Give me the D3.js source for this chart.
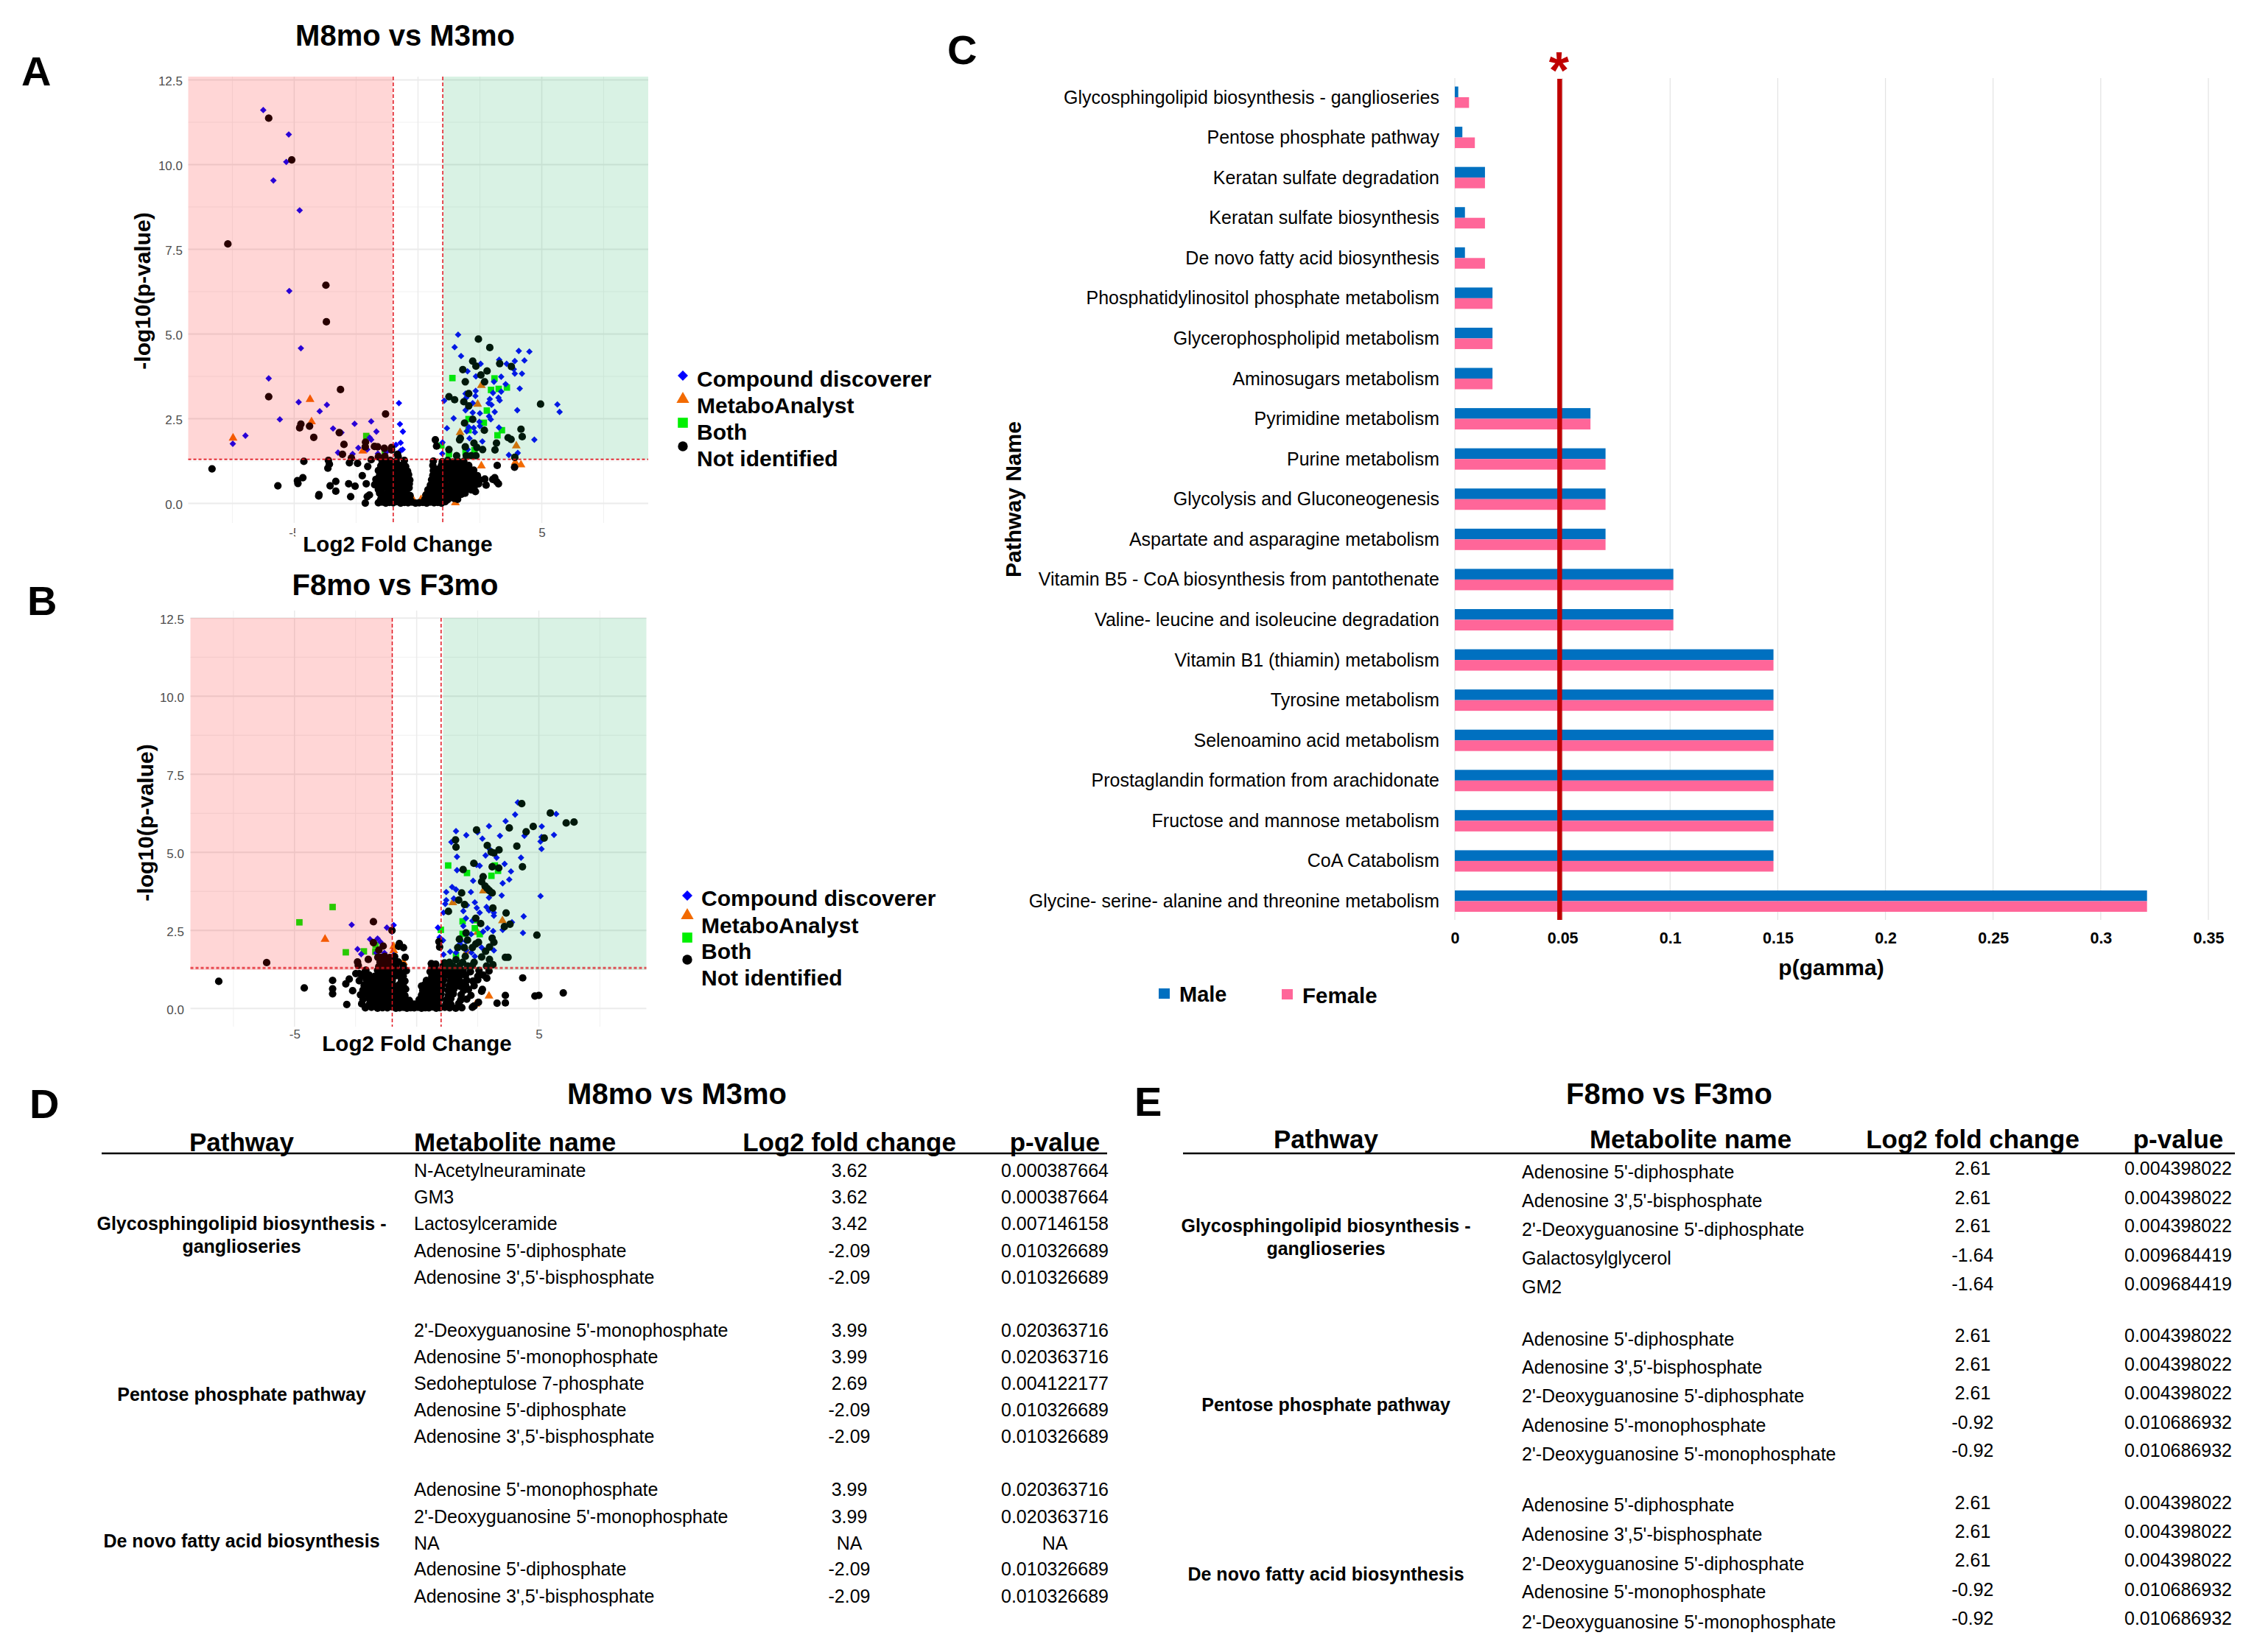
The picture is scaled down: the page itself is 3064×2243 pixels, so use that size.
<!DOCTYPE html>
<html>
<head>
<meta charset="utf-8">
<script src="https://cdn.jsdelivr.net/npm/d3@7"></script>
<style>
html,body{margin:0;padding:0;background:#fff}
svg{display:block}
text{font-family:"Liberation Sans",Arial,sans-serif}
</style>
</head>
<body>
<svg id="fig" width="3064" height="2243" viewBox="0 0 3064 2243"></svg>
<script>
// ---------- Panel A data: [log2 fold change, -log10 p] ----------
const aCompound = [[-6.25,11.61],[-5.22,10.89],[-5.32,10.08],[-5.84,9.53],[-4.78,8.65],[-5.2,6.27],[-4.73,4.58],[-6.03,3.69],
[-4.82,2.99],[-3.68,2.91],[-3.97,2.72],[-5.58,2.48],[-2.56,2.35],[-1.89,2.42],[-3.43,2.21],[-3.09,2.09],[-1.68,2.12],[-6.97,2.0],[-7.48,1.76],[-1.95,1.94],[-1.89,1.88],[-2.41,1.64],[-2.05,1.59],[-3.23,1.5],[-2.64,1.46],[-1.62,1.47],[-1.27,1.52],
[-0.77,2.96],[-0.73,2.34],[-0.61,2.12],[-0.7,1.79],[-0.89,1.73],[-0.62,1.59],[-0.7,1.56],
[1.62,4.98],[1.48,4.61],[1.74,4.35],[4.07,4.5],[4.5,4.48],[4.3,4.22],[3.91,4.2],[3.28,4.24],[2.53,4.12],[3.58,4.12],[2.0,3.9],[2.34,3.75],[3.36,3.74],[3.87,3.96],[3.91,3.83],[4.2,3.83],[3.07,3.59],[3.54,3.52],[4.11,3.39],[2.33,3.32],[3.36,3.3],[3.03,3.26],[1.92,3.24],[2.32,3.17],[1.95,3.12],[1.06,3.03],[2.9,3.08],[3.25,3.12],[3.3,3.04],[2.21,2.96],[2.85,2.96],[2.97,2.91],[5.63,2.92],[5.72,2.7],[4.01,2.75],[1.92,2.75],[2.21,2.68],[2.5,2.66],[3.1,2.7],[1.44,2.51],[2.87,2.57],[2.94,2.48],[1.17,2.22],[2.05,2.25],[2.25,2.23],[2.48,2.41],[2.5,2.28],[1.97,2.13],[2.3,2.1],[3.27,2.24],[2.08,1.92],[2.6,1.83],[4.7,1.88],[0.99,1.8],[2.01,1.59],[4.03,1.49],[3.67,1.43],[0.98,1.47]];
const aMetabo = [[-7.47,1.93],[-4.36,3.07],[-4.3,2.41],[-2.23,1.55],[2.56,3.48],[2.41,2.93],[1.7,2.09],[3.97,1.7],[3.93,1.21],[4.16,1.14],[2.56,1.11],[1.36,0.8],[1.51,0.02],[-0.8,0.14],[-0.48,0.47],[-0.2,0.11],[0.12,0.11],[0.32,0.3],[0.85,0.43],[0.89,0.29]];
const aBoth = [[1.39,3.7],[3.09,3.69],[2.95,3.35],[3.26,3.38],[3.59,3.42],[2.78,2.74],[2.04,2.49],[2.66,2.38],[2.04,2.16],[3.39,2.16],[3.21,2.01],[-2.09,1.99],[-1.34,1.55],[0.94,1.71],[1.25,1.45],[1.92,1.52],[2.28,1.57]];
const aNone = [[-6.03,11.37],[-5.1,10.14],[-7.68,7.66],[-3.72,6.44],[-3.7,5.36],[-3.13,3.36],[-6.03,3.15],[-1.31,2.64],
[2.44,4.85],[2.9,4.6],[2.21,4.2],[2.34,4.05],[3.3,4.13],[3.77,4.04],[1.81,3.95],[2.79,3.91],[2.54,3.79],[1.91,3.59],[2.69,3.59],[2.05,3.24],[1.25,3.15],[1.48,3.06],[1.85,3.0],[2.05,2.88],[4.95,2.93],[1.88,2.37],[2.21,2.48],[2.68,2.16],[4.16,2.19],[4.21,1.97],[3.64,1.94],[3.76,1.89],[1.68,1.88],[1.71,1.92],[0.7,1.88],[0.75,1.69],[3.17,1.78],[2.26,1.78],[2.38,1.65],[2.61,1.59],[3.11,1.58],[1.91,1.67],[1.25,1.59],[1.56,1.41],[1.95,1.41],[2.15,1.41],[2.34,1.41],[3.91,1.36],
[-4.73,2.34],[-4.78,2.23],[-4.38,2.28],[-4.21,1.95],[-3.18,2.09],[-2.99,1.74],[-2.69,1.34],[-3.05,1.45],[-2.12,1.81],[-2.13,1.67],[-1.76,1.68],[-1.63,1.67],[-1.36,1.63],[-1.07,1.65],[-1.07,1.58],[-1.6,1.38],[-1.34,1.39],[-1.89,1.29],[-0.83,1.45],[-0.8,1.38],
[-8.32,1.02],[-4.61,1.24],[-3.62,1.27],[-3.58,1.16],[-3.64,1.04],[-4.65,0.76],[-4.87,0.67],[-4.85,0.59],[-5.66,0.52],[-3.32,0.65],[-3.55,0.52],[-3.32,0.36],[-4.01,0.22],[-4.0,0.26],[-2.72,0.2],[-2.77,1.2],[-2.44,1.18],[-2.03,1.09],[-2.25,0.82],[-2.09,0.58],[-2.8,0.58],[-2.54,0.51],[-1.96,0.25],[-2.05,0.2],[-2.13,0.01],[3.1,0.76],[3.02,0.71],[3.18,0.64],[3.25,0.58],[2.75,0.54],[3.2,1.12],[3.9,1.07],[2.32,0.35],
[-1.6,0.02],[-1.45,0.04],[-1.3,0.01],[-1.15,0.03],[-1.0,0.02],[-0.85,0.05],[-0.7,0.01],[-0.55,0.03],[-0.4,0.02],[-0.25,0.04],[-0.1,0.01],[0.05,0.02],[0.2,0.03],[0.35,0.01],[0.5,0.04],[0.65,0.02],[0.8,0.03],[0.95,0.01],[1.1,0.05],
[-1.5,0.13],[-1.3,0.16],[-1.12,0.12],[-0.95,0.15],[-0.75,0.11],[-0.6,0.16],[-0.42,0.13],[-0.3,0.09],[0.28,0.12],[0.42,0.15],[0.6,0.11],[0.75,0.17],[0.9,0.13],[1.05,0.16],[1.2,0.11],[1.45,0.15],[1.6,0.12],
[-1.55,0.3],[-1.35,0.26],[-1.15,0.31],[-0.98,0.27],[-0.8,0.3],[-0.62,0.25],[-0.45,0.29],[-0.32,0.23],[0.32,0.25],[0.5,0.3],[0.68,0.26],[0.85,0.31],[1.02,0.27],[1.2,0.3],[1.38,0.25],[1.55,0.31],[1.75,0.27],[1.9,0.3],
[-1.6,0.41],[-1.42,0.45],[-1.2,0.42],[-1.0,0.46],[-0.85,0.4],[-0.65,0.44],[-0.5,0.41],[-0.36,0.46],[0.4,0.4],[0.58,0.45],[0.75,0.41],[0.92,0.46],[1.1,0.42],[1.28,0.44],[1.45,0.4],[1.62,0.46],[1.8,0.42],[2.0,0.45],[2.15,0.4],
[-1.75,0.55],[-1.5,0.58],[-1.3,0.54],[-1.08,0.59],[-0.9,0.55],[-0.72,0.57],[-0.55,0.53],[-0.35,0.58],[0.5,0.54],[0.68,0.58],[0.85,0.55],[1.02,0.59],[1.2,0.53],[1.38,0.57],[1.55,0.55],[1.72,0.59],[1.9,0.54],[2.1,0.57],[2.3,0.53],[2.45,0.58],
[-1.7,0.71],[-1.45,0.68],[-1.25,0.72],[-1.05,0.69],[-0.85,0.73],[-0.68,0.68],[-0.5,0.71],[-0.33,0.69],[0.55,0.7],[0.72,0.67],[0.9,0.72],[1.08,0.69],[1.25,0.73],[1.42,0.68],[1.6,0.71],[1.78,0.69],[1.95,0.73],[2.12,0.68],[2.3,0.71],[2.5,0.69],[2.7,0.72],
[-1.55,0.83],[-1.35,0.86],[-1.15,0.82],[-0.95,0.87],[-0.75,0.84],[-0.58,0.81],[-0.38,0.85],[0.6,0.83],[0.78,0.87],[0.95,0.82],[1.12,0.86],[1.3,0.83],[1.48,0.87],[1.65,0.82],[1.82,0.85],[2.0,0.84],[2.2,0.87],[2.4,0.82],
[-1.6,0.97],[-1.4,1.0],[-1.18,0.96],[-0.98,1.01],[-0.8,0.97],[-0.6,0.99],[-0.42,0.95],[0.62,0.97],[0.8,1.01],[0.98,0.96],[1.15,1.0],[1.35,0.97],[1.5,1.01],[1.7,0.96],[1.88,0.99],[2.05,0.95],[2.25,0.98],
[-1.5,1.11],[-1.3,1.14],[-1.1,1.1],[-0.9,1.15],[-0.7,1.12],[-0.5,1.09],[0.6,1.12],[0.95,1.13],[1.12,1.1],[1.3,1.15],[1.5,1.11],[1.68,1.14],[1.85,1.1],[2.05,1.12],
[-1.45,1.26],[-1.35,1.22],[-1.12,1.27],[-0.88,1.24],[-0.55,1.27],[0.62,1.25],[0.98,1.23],[1.2,1.27],[1.4,1.22],[1.6,1.26],[1.85,1.24]];

// ---------- Panel B data ----------
const bCompound = [[4.14,6.6],[4.27,6.56],[4.03,6.21],[5.71,6.23],[3.64,6.0],[2.96,5.84],[5.12,5.83],[1.61,5.68],[2.03,5.55],[2.49,5.64],[5.62,5.56],[4.41,5.53],[3.41,5.53],[2.69,5.44],[5.11,5.49],[5.07,5.35],[1.42,5.33],[5.11,5.11],[3.0,5.09],[2.82,4.9],[3.27,4.83],[1.65,4.86],[4.27,4.83],[3.6,4.63],[2.58,4.57],[2.45,4.6],[1.65,4.43],[3.86,4.39],[3.79,4.13],[2.31,4.09],[3.52,4.01],[1.45,3.89],[1.61,3.81],[1.21,3.73],[2.22,3.73],[3.48,3.62],[5.07,3.6],[2.96,3.55],[1.21,3.47],[1.52,3.52],[1.17,3.35],[2.38,3.4],[2.06,3.31],[2.46,3.22],[2.86,3.25],[1.91,3.12],[2.96,3.14],[1.1,3.07],[2.58,3.07],[3.16,3.07],[3.16,2.97],[4.38,2.95],[2.02,2.89],[2.28,2.81],[3.9,2.76],[1.91,2.64],[2.9,2.57],[3.52,2.52],[3.13,2.48],[2.72,2.46],[4.35,2.42],[2.23,2.38],[0.87,2.59],[0.94,2.28],[1.08,2.18],[1.81,2.17],[2.02,2.15],[1.77,2.07],[2.66,1.95],[3.16,1.86],[1.37,1.82],[1.61,1.79],[2.02,1.87],[1.1,1.73],[2.38,1.67],[2.24,1.79],
[-2.66,2.68],[-0.94,2.67],[-1.22,2.59],[-1.01,2.46],[-1.91,2.22],[-1.6,2.24],[-1.48,2.13],[-2.42,1.9],[-2.27,1.74],[-1.65,1.78],[-1.32,1.78],[-0.94,1.71]];
const bMetabo = [[-3.75,2.22],[-0.94,1.99],[-0.94,1.86],[-0.54,1.48],[-1.32,1.46],[1.48,3.39],[2.73,3.77],[3.51,2.81],[2.49,2.44],[2.06,1.83],[2.96,0.4],[2.42,0.14],[-1.48,0.24],[-1.01,0.69],[-1.61,1.05],[0.34,0.18],[0.67,0.75]];
const bBoth = [[-3.44,3.25],[-4.8,2.76],[-2.9,1.8],[-2.16,1.83],[-1.68,2.03],[-1.69,1.82],[0.99,2.52],[1.29,4.58],[3.2,4.58],[3.33,4.41],[2.06,4.34],[3.06,4.25],[1.88,2.79],[2.39,2.83],[2.38,2.57],[1.88,2.39],[2.58,2.38],[1.61,1.7]];
const bNone = [[4.3,6.56],[5.47,6.26],[6.12,5.94],[6.44,5.97],[4.77,5.83],[3.79,5.78],[2.45,5.72],[4.48,5.66],[1.59,5.4],[5.22,5.46],[1.61,5.17],[2.89,5.22],[4.1,5.2],[3.37,5.08],[3.05,5.01],[3.16,4.98],[2.34,4.65],[3.09,4.54],[4.33,4.54],[3.36,4.5],[1.9,4.45],[2.72,4.22],[2.66,4.06],[2.8,3.92],[2.89,3.84],[2.98,3.77],[3.09,3.7],[1.84,3.7],[1.72,3.47],[1.96,3.33],[3.12,3.22],[1.3,3.11],[3.66,3.06],[2.42,2.89],[3.82,2.7],[3.59,2.62],[2.62,2.72],[3.09,2.25],[3.16,2.12],[2.53,2.12],[4.92,2.35],[2.02,2.42],[1.75,2.22],[2.08,2.19],[0.91,2.14],[2.42,2.07],[2.28,1.95],[1.68,1.95],[0.94,1.97],[1.95,1.95],[2.82,1.83],[2.98,1.97],[3.63,1.64],[3.74,1.64],[2.66,1.65],[1.99,1.67],[2.98,1.57],[3.12,1.4],[2.86,1.36],[2.35,1.48],[1.88,1.48],[1.61,1.56],[1.34,1.48],[1.14,1.46],[0.6,1.44],[0.78,1.42],[2.28,1.38],[2.08,1.36],[1.75,1.36],[1.48,1.36],[1.21,1.34],[1.08,1.36],
[-6.14,1.47],[-1.77,2.78],[-1.01,2.5],[-0.71,2.08],[-0.54,1.95],[-0.74,1.99],[-1.77,2.11],[-1.37,2.0],[-1.55,1.87],[-1.59,1.64],[-1.98,1.57],[-0.47,1.64],[-2.42,1.49],[-2.39,1.38],[-2.08,1.23],
[-8.1,0.87],[-4.6,0.66],[-3.44,0.9],[-3.44,0.63],[-3.44,0.47],[-2.86,0.13],[-2.9,0.79],[-2.76,0.94],[-2.62,0.57],[-2.49,1.12],[-2.35,1.12],[4.34,0.98],[6.0,0.5],[4.84,0.4],[5.0,0.42],[3.63,0.42],[3.63,0.18],[3.29,0.17],[2.53,0.2],[2.28,0.04],[2.35,0.08],[2.66,0.55],[2.69,0.61],[2.22,0.42],[2.87,0.97],[2.96,1.2],
[-2.1,0.02],[-1.85,0.04],[-1.6,0.01],[-1.4,0.03],[-1.2,0.02],[-1.0,0.05],[-0.85,0.01],[-0.7,0.02],[-0.55,0.04],[-0.4,0.01],[-0.25,0.03],[-0.1,0.02],[0.05,0.04],[0.2,0.01],[0.35,0.03],[0.5,0.02],[0.65,0.05],[0.8,0.01],[0.95,0.03],[1.15,0.04],[1.35,0.02],[1.6,0.01],[1.85,0.03],
[-2.25,0.15],[-1.95,0.12],[-1.7,0.16],[-1.5,0.13],[-1.3,0.17],[-1.12,0.12],[-0.95,0.15],[-0.78,0.13],[-0.6,0.16],[-0.42,0.12],[-0.25,0.15],[-0.1,0.14],[0.05,0.16],[0.2,0.12],[0.38,0.15],[0.55,0.13],[0.72,0.17],[0.9,0.12],[1.2,0.15],[1.4,0.13],[1.72,0.16],
[-2.2,0.29],[-1.95,0.32],[-1.75,0.28],[-1.55,0.31],[-1.38,0.27],[-1.2,0.32],[-1.02,0.29],[-0.85,0.31],[-0.68,0.27],[-0.5,0.3],[-0.3,0.26],[0.1,0.28],[0.28,0.31],[0.45,0.27],[0.62,0.32],[0.78,0.29],[0.95,0.31],[1.22,0.28],[1.4,0.32],[1.8,0.27],[2.05,0.3],
[-2.3,0.44],[-2.05,0.47],[-1.85,0.43],[-1.62,0.46],[-1.42,0.44],[-1.25,0.47],[-1.05,0.42],[-0.88,0.46],[-0.7,0.44],[-0.48,0.41],[0.2,0.43],[0.38,0.46],[0.52,0.42],[0.7,0.47],[0.85,0.44],[1.0,0.46],[1.3,0.43],[1.5,0.47],[1.82,0.44],
[-2.2,0.59],[-2.0,0.62],[-1.78,0.58],[-1.55,0.61],[-1.35,0.57],[-1.15,0.62],[-0.95,0.59],[-0.78,0.61],[-0.6,0.58],[-0.45,0.62],[0.25,0.58],[0.42,0.61],[0.58,0.59],[0.72,0.62],[0.88,0.57],[1.02,0.61],[1.28,0.59],[1.52,0.62],[1.92,0.58],[2.12,0.61],
[-2.15,0.74],[-1.95,0.77],[-1.72,0.73],[-1.5,0.76],[-1.3,0.74],[-1.1,0.77],[-0.92,0.72],[-0.72,0.76],[-0.55,0.74],[0.2,0.72],[0.32,0.76],[0.55,0.73],[0.72,0.77],[0.9,0.74],[1.05,0.76],[1.32,0.73],[1.55,0.77],[1.75,0.72],[2.0,0.75],[2.35,0.73],
[-2.35,0.89],[-2.05,0.92],[-1.85,0.88],[-1.6,0.91],[-1.42,0.87],[-1.2,0.92],[-1.0,0.89],[-0.62,0.91],[-0.48,0.88],[0.4,0.9],[0.6,0.87],[0.78,0.92],[0.95,0.89],[1.1,0.91],[1.38,0.88],[1.6,0.92],[1.78,0.87],[2.05,0.9],[2.3,0.88],[2.5,0.92],
[-2.2,1.04],[-1.95,1.07],[-1.72,1.03],[-1.5,1.06],[-1.3,1.04],[-1.1,1.07],[-0.95,1.02],[-0.8,1.06],[-0.55,1.04],[0.62,1.03],[0.8,1.07],[0.98,1.04],[1.15,1.06],[1.38,1.02],[1.55,1.07],[1.75,1.04],[2.0,1.06],[2.5,1.03],[2.72,1.07],
[-2.1,1.19],[-1.6,1.22],[-1.45,1.18],[-1.25,1.21],[-1.05,1.17],[-0.9,1.22],[-0.7,1.19],[-0.42,1.21],[0.55,1.18],[0.72,1.22],[0.95,1.19],[1.15,1.21],[1.3,1.17],[1.5,1.22],[1.7,1.19],[1.9,1.21],[2.2,1.18],[2.55,1.22],
[-1.55,1.34],[-1.4,1.37],[-1.2,1.33],[-1.05,1.36],[-0.85,1.34],[-0.55,1.37],[0.62,1.33],[0.75,1.36],
[-1.5,1.49],[-1.35,1.52],[-1.15,1.48],[-1.0,1.51],[-0.75,1.49],[-1.45,1.64],[-1.3,1.67],[-1.1,1.63],[-0.9,1.66]];

// ---------- Panel C data ----------
const pathways = ["Glycosphingolipid biosynthesis - ganglioseries","Pentose phosphate pathway","Keratan sulfate degradation","Keratan sulfate biosynthesis","De novo fatty acid biosynthesis","Phosphatidylinositol phosphate metabolism","Glycerophospholipid metabolism","Aminosugars metabolism","Pyrimidine metabolism","Purine metabolism","Glycolysis and Gluconeogenesis","Aspartate and asparagine metabolism","Vitamin B5 - CoA biosynthesis from pantothenate","Valine- leucine and isoleucine degradation","Vitamin B1 (thiamin) metabolism","Tyrosine metabolism","Selenoamino acid metabolism","Prostaglandin formation from arachidonate","Fructose and mannose metabolism","CoA Catabolism","Glycine- serine- alanine and threonine metabolism"];
const maleP = [0.0016,0.0035,0.014,0.0047,0.0047,0.0175,0.0175,0.0175,0.063,0.07,0.07,0.07,0.1015,0.1015,0.148,0.148,0.148,0.148,0.148,0.148,0.3215];
const femaleP = [0.0066,0.0093,0.014,0.014,0.014,0.0175,0.0175,0.0175,0.063,0.07,0.07,0.07,0.1015,0.1015,0.148,0.148,0.148,0.148,0.148,0.148,0.3215];
const pTicks = [0,0.05,0.1,0.15,0.2,0.25,0.3,0.35];
const pCutoff = 0.0487;

// ---------- Tables D and E ----------
const headers = ["Pathway","Metabolite name","Log2 fold change","p-value"];
const dNames = ["N-Acetylneuraminate","GM3","Lactosylceramide","Adenosine 5'-diphosphate","Adenosine 3',5'-bisphosphate","2'-Deoxyguanosine 5'-monophosphate","Adenosine 5'-monophosphate","Sedoheptulose 7-phosphate","Adenosine 5'-diphosphate","Adenosine 3',5'-bisphosphate","Adenosine 5'-monophosphate","2'-Deoxyguanosine 5'-monophosphate","NA","Adenosine 5'-diphosphate","Adenosine 3',5'-bisphosphate"];
const dFold = ["3.62","3.62","3.42","-2.09","-2.09","3.99","3.99","2.69","-2.09","-2.09","3.99","3.99","NA","-2.09","-2.09"];
const dP = ["0.000387664","0.000387664","0.007146158","0.010326689","0.010326689","0.020363716","0.020363716","0.004122177","0.010326689","0.010326689","0.020363716","0.020363716","NA","0.010326689","0.010326689"];
const eNames = ["Adenosine 5'-diphosphate","Adenosine 3',5'-bisphosphate","2'-Deoxyguanosine 5'-diphosphate","Galactosylglycerol","GM2","Adenosine 5'-diphosphate","Adenosine 3',5'-bisphosphate","2'-Deoxyguanosine 5'-diphosphate","Adenosine 5'-monophosphate","2'-Deoxyguanosine 5'-monophosphate","Adenosine 5'-diphosphate","Adenosine 3',5'-bisphosphate","2'-Deoxyguanosine 5'-diphosphate","Adenosine 5'-monophosphate","2'-Deoxyguanosine 5'-monophosphate"];
const eFold = ["2.61","2.61","2.61","-1.64","-1.64","2.61","2.61","2.61","-0.92","-0.92","2.61","2.61","2.61","-0.92","-0.92"];
const eP = ["0.004398022","0.004398022","0.004398022","0.009684419","0.009684419","0.004398022","0.004398022","0.004398022","0.010686932","0.010686932","0.004398022","0.004398022","0.004398022","0.010686932","0.010686932"];
const legendNames = ["Compound discoverer","MetaboAnalyst","Both","Not identified"];

// ---------- Drawing ----------
const svg = d3.select("#fig");
svg.append("rect").attr("width",3064).attr("height",2243).attr("fill","#fff");

function label(g,x,y,str,o={}){
  const s = g.append("text").attr("x",x).attr("y",y).text(str)
    .attr("font-size",o.size||25).attr("font-weight",o.weight||"normal")
    .attr("text-anchor",o.anchor||"start").attr("fill",o.fill||"#000");
  if(o.center!==false) s.attr("dominant-baseline","central");
  if(o.rotate) s.attr("transform",`rotate(${o.rotate} ${x} ${y})`);
  return s;
}
const colors = {compound:"#0000ff",metabo:"#f26a00",both:"#00f000",none:"#000"};
const sym = {
  compound:d3.symbol().type(d3.symbolDiamond2).size(50)(),
  metabo:d3.symbol().type(d3.symbolTriangle).size(62)(),
  both:d3.symbol().type(d3.symbolSquare).size(76)(),
  none:d3.symbol().type(d3.symbolCircle).size(82)()
};
const legendSym = {
  compound:d3.symbol().type(d3.symbolDiamond2).size(125)(),
  metabo:d3.symbol().type(d3.symbolTriangle).size(130)(),
  both:d3.symbol().type(d3.symbolSquare).size(185)(),
  none:d3.symbol().type(d3.symbolCircle).size(140)()
};

function volcano(c){
  const g = svg.append("g");
  const x = d3.scaleLinear().domain([-5,5]).range(c.xr);
  const y = d3.scaleLinear().domain([0,12.5]).range(c.yr);
  const gridColor="#ebebeb";
  [1.25,3.75,6.25,8.75,11.25].forEach(v=>g.append("line").attr("x1",c.left).attr("x2",c.right).attr("y1",y(v)).attr("y2",y(v)).attr("stroke","#f1f1f1").attr("stroke-width",1));
  [-7.5,-2.5,2.5,7.5].forEach(v=>g.append("line").attr("x1",x(v)).attr("x2",x(v)).attr("y1",c.gridTop).attr("y2",c.gridBot).attr("stroke","#f1f1f1").attr("stroke-width",1));
  [0,2.5,5,7.5,10,12.5].forEach(v=>g.append("line").attr("x1",c.left).attr("x2",c.right).attr("y1",y(v)).attr("y2",y(v)).attr("stroke",gridColor).attr("stroke-width",2));
  [-5,0,5].forEach(v=>g.append("line").attr("x1",x(v)).attr("x2",x(v)).attr("y1",c.gridTop).attr("y2",c.gridBot).attr("stroke",gridColor).attr("stroke-width",1.5));

  const series=[["metabo",c.metabo],["both",c.both],["compound",c.compound],["none",c.none]];
  series.forEach(([k,data])=>{
    g.append("g").selectAll("path").data(data).join("path")
      .attr("d",sym[k]).attr("fill",colors[k])
      .attr("transform",d=>`translate(${x(d[0])},${y(d[1])})`);
  });
  // shaded zones sit over the points
  g.append("rect").attr("x",c.left).attr("y",c.top).attr("width",c.pinkRight-c.left).attr("height",c.zoneBot-c.top).attr("fill","rgba(255,0,0,0.16)");
  g.append("rect").attr("x",c.greenLeft).attr("y",c.top).attr("width",c.right-c.greenLeft).attr("height",c.zoneBot-c.top).attr("fill","rgba(0,168,75,0.15)");
  // threshold lines
  [-1,1].forEach(v=>g.append("line").attr("x1",x(v)).attr("x2",x(v)).attr("y1",c.top).attr("y2",c.gridBot).attr("stroke","#e0141e").attr("stroke-width",c.dashW).attr("stroke-dasharray","5,3"));
  g.append("line").attr("x1",c.left).attr("x2",c.right).attr("y1",y(1.3)).attr("y2",y(1.3)).attr("stroke","#e0141e").attr("stroke-width",c.hW).attr("stroke-dasharray","4,3").attr("opacity",c.hO);

  const ya=d3.axisLeft(y).tickValues([0,2.5,5,7.5,10,12.5]).tickFormat(d3.format(".1f")).tickSize(0).tickPadding(0);
  const yg=g.append("g").attr("transform",`translate(${c.ytickX},1.5)`).call(ya);
  yg.select(".domain").remove();
  yg.selectAll("text").attr("font-size",17).attr("fill","#4d4d4d").attr("font-family",'"Liberation Sans"');
  const xa=d3.axisBottom(x).tickValues([-5,5]).tickFormat(d=>d).tickSize(0).tickPadding(0);
  const xg=g.append("g").attr("transform",`translate(0,${c.xtickY})`).call(xa);
  xg.select(".domain").remove();
  xg.selectAll("text").attr("font-size",17).attr("fill","#4d4d4d").attr("font-family",'"Liberation Sans"');
  if(c.mask) g.append("rect").attr("x",c.mask[0]).attr("y",c.mask[1]).attr("width",c.mask[2]).attr("height",c.mask[3]).attr("fill","#fff");

  label(g,c.titleX,c.titleY,c.title,{size:40,weight:"bold",anchor:"middle",center:false});
  label(g,c.ylabX,c.ylabY,"-log10(p-value)",{size:30,weight:"bold",anchor:"middle",rotate:-90});
  label(g,c.xlabX,c.xlabY,"Log2 Fold Change",{size:29.5,weight:"bold",anchor:"middle"});
  const keys=["compound","metabo","both","none"];
  keys.forEach((k,i)=>{
    g.append("path").attr("d",legendSym[k]).attr("fill",colors[k]).attr("transform",`translate(${c.legMarkX},${c.legMarkY[i]})`);
    label(g,c.legTextX,c.legTextY[i],legendNames[i],{size:30,weight:"bold"});
  });
}

volcano({title:"M8mo vs M3mo",titleX:550,titleY:62,left:255.5,right:880,top:104,zoneBot:624,pinkRight:533,greenLeft:601.5,
  xr:[399.4,735.5],yr:[683.5,108.5],gridTop:104,gridBot:710,ytickX:248,xtickY:717,mask:[401,712,280,50],dashW:1.5,hW:1.8,hO:1,
  ylabX:193,ylabY:395,xlabX:540,xlabY:738,legMarkX:927,legMarkY:[510,542,574,606],legTextX:946,legTextY:[514,550,586,622],
  compound:aCompound,metabo:aMetabo,both:aBoth,none:aNone});
volcano({title:"F8mo vs F3mo",titleX:536.5,titleY:808,left:258.5,right:877.5,top:839,zoneBot:1316.7,pinkRight:533,greenLeft:601.5,
  xr:[399.8,731.5],yr:[1369.3,839.3],gridTop:829,gridBot:1394,ytickX:250,xtickY:1398,mask:null,dashW:1.5,hW:3,hO:.7,
  ylabX:197,ylabY:1117,xlabX:566,xlabY:1416,legMarkX:933,legMarkY:[1216,1243,1273,1303],legTextX:952,legTextY:[1219,1256,1291,1327],
  compound:bCompound,metabo:bMetabo,both:bBoth,none:bNone});

// Panel C
(function(){
  const g=svg.append("g");
  const x=d3.scaleLinear().domain([0,0.35]).range([1975,2998]);
  const y=d3.scalePoint().domain(pathways).range([132,1223.5]);
  const barH=14.5;
  g.selectAll("line.grid").data(pTicks).join("line").attr("class","grid")
    .attr("x1",d=>x(d)).attr("x2",d=>x(d)).attr("y1",106).attr("y2",1249)
    .attr("stroke","#e2e2e2").attr("stroke-width",1.2);
  g.append("g").selectAll("rect").data(pathways).join("rect")
    .attr("x",x(0)).attr("y",d=>y(d)-barH).attr("height",barH)
    .attr("width",(d,i)=>x(maleP[i])-x(0)).attr("fill","#0070c0");
  g.append("g").selectAll("rect").data(pathways).join("rect")
    .attr("x",x(0)).attr("y",d=>y(d)).attr("height",barH)
    .attr("width",(d,i)=>x(femaleP[i])-x(0)).attr("fill","#ff6699");
  g.append("line").attr("x1",x(pCutoff)).attr("x2",x(pCutoff)).attr("y1",107).attr("y2",1249).attr("stroke","#c00000").attr("stroke-width",6.5);
  label(g,x(pCutoff)-1,120,"*",{size:70,weight:"bold",anchor:"middle",fill:"#c00000",center:false});

  const ya=d3.axisLeft(y).tickSize(0).tickPadding(0);
  const yg=g.append("g").attr("transform","translate(1954,0)").call(ya);
  yg.select(".domain").remove();
  yg.selectAll("text").attr("font-size",25).attr("fill","#000").attr("font-family",'"Liberation Sans"');
  const xa=d3.axisBottom(x).tickValues(pTicks).tickFormat(d3.format("~g")).tickSize(0).tickPadding(0);
  const xg=g.append("g").attr("transform","translate(0,1266)").call(xa);
  xg.select(".domain").remove();
  xg.selectAll("text").attr("font-size",21.5).attr("font-weight","bold").attr("fill","#000").attr("font-family",'"Liberation Sans"');
  label(g,2486,1313,"p(gamma)",{size:30,weight:"bold",anchor:"middle"});
  label(g,1375,678,"Pathway Name",{size:30,weight:"bold",anchor:"middle",rotate:-90});
  g.append("rect").attr("x",1573).attr("y",1342).attr("width",15).attr("height",14).attr("fill","#0070c0");
  label(g,1601,1350,"Male",{size:29,weight:"bold"});
  g.append("rect").attr("x",1740).attr("y",1343).attr("width",15).attr("height",14).attr("fill","#ff6699");
  label(g,1768,1351.5,"Female",{size:29.5,weight:"bold"});
})();

// Panel letters
[["A",29,116],["B",37,835],["C",1286,87],["D",40,1518],["E",1540,1515]].forEach(d=>label(svg,d[1],d[2],d[0],{size:56,weight:"bold",center:false}));

// Tables
function table(c){
  const g=svg.append("g");
  label(g,c.titleX,1485,c.title,{size:40,weight:"bold",anchor:"middle"});
  headers.forEach((h,i)=>label(g,c.headX[i],c.headY,h,{size:35,weight:"bold",anchor:c.headAnchor[i]}));
  g.append("line").attr("x1",c.rule[0]).attr("x2",c.rule[1]).attr("y1",1566).attr("y2",1566).attr("stroke","#000").attr("stroke-width",2.5);
  c.names.forEach((n,i)=>{
    label(g,c.nameX,c.nameY[i],n,{size:25});
    label(g,c.foldX,c.valY[i],c.fold[i],{size:25,anchor:"middle"});
    label(g,c.pX,c.valY[i],c.p[i],{size:25,anchor:"middle"});
  });
  c.groups.forEach(d=>label(g,c.groupX,d[1],d[0],{size:25,weight:"bold",anchor:"middle"}));
}
const dNameY=[1589,1625,1661,1697.5,1733.5,1806,1842,1878,1914,1950,2022,2059,2095,2130,2167];
table({title:"M8mo vs M3mo",titleX:919,headX:[328,562,1153,1432],headAnchor:["middle","start","middle","middle"],headY:1550,rule:[138,1503],
  names:dNames,fold:dFold,p:dP,nameX:562,nameY:dNameY,valY:dNameY,foldX:1153,pX:1432,groupX:328,
  groups:[["Glycosphingolipid biosynthesis -",1661],["ganglioseries",1692],["Pentose phosphate pathway",1893],["De novo fatty acid biosynthesis",2092]]});
table({title:"F8mo vs F3mo",titleX:2266,headX:[1800,2295,2678,2957],headAnchor:["middle","middle","middle","middle"],headY:1546,rule:[1606,3034],
  names:eNames,fold:eFold,p:eP,nameX:2066,
  nameY:[1591,1630,1668.5,1707.5,1746.5,1818,1856,1895,1934.5,1973.5,2043,2083,2123,2161,2201.5],
  valY:[1586,1625.5,1664,1703.5,1743,1813,1852,1891,1930.5,1969,2039.5,2078.5,2118,2157.5,2196.5],
  foldX:2678,pX:2957,groupX:1800,
  groups:[["Glycosphingolipid biosynthesis -",1664],["ganglioseries",1695],["Pentose phosphate pathway",1907],["De novo fatty acid biosynthesis",2137]]});
</script>
</body>
</html>
